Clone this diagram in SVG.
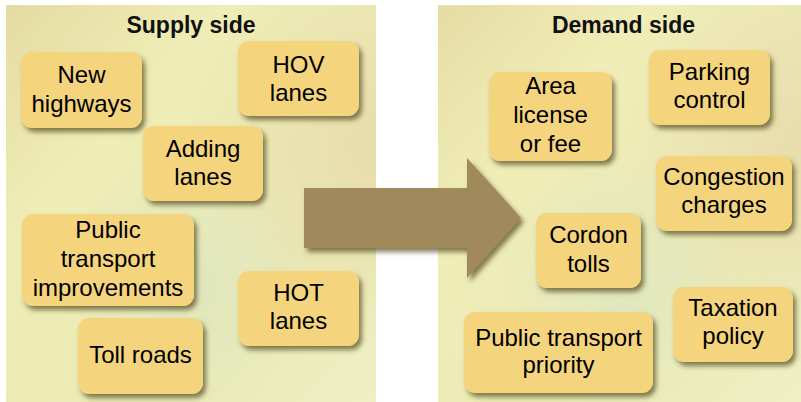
<svg xmlns="http://www.w3.org/2000/svg" width="801" height="402" viewBox="0 0 801 402">
<defs>
<linearGradient id="bgL" x1="0" y1="0" x2="1" y2="1">
<stop offset="0" stop-color="#e4dba2"/>
<stop offset="0.3" stop-color="#efedb6"/>
<stop offset="0.7" stop-color="#eaeab4"/>
<stop offset="1" stop-color="#eef0c4"/>
</linearGradient>
<linearGradient id="bgR" x1="0" y1="0" x2="1" y2="1">
<stop offset="0" stop-color="#e6dca4"/>
<stop offset="0.3" stop-color="#f0edb7"/>
<stop offset="0.7" stop-color="#ebebb5"/>
<stop offset="1" stop-color="#eef0c4"/>
</linearGradient>
<radialGradient id="tanTR" cx="1" cy="0.35" r="0.5">
<stop offset="0" stop-color="#e8dbab" stop-opacity="0.9"/>
<stop offset="1" stop-color="#e8dbab" stop-opacity="0"/>
</radialGradient>
<radialGradient id="greenC" cx="0.5" cy="0.7" r="0.35">
<stop offset="0" stop-color="#dde6c2" stop-opacity="0.8"/>
<stop offset="1" stop-color="#dde6c2" stop-opacity="0"/>
</radialGradient>
<filter id="sh" x="-20%" y="-20%" width="150%" height="150%">
<feGaussianBlur in="SourceAlpha" stdDeviation="2.5"/>
<feOffset dx="3" dy="4" result="b"/>
<feFlood flood-color="#5a5326" flood-opacity="0.75"/>
<feComposite in2="b" operator="in"/>
<feMerge><feMergeNode/><feMergeNode in="SourceGraphic"/></feMerge>
</filter>
</defs>
<style>
.box{fill:#f5d47e;filter:url(#sh)}
.t{font-family:"Liberation Sans",Arial,sans-serif;font-size:24px;fill:#000;text-anchor:middle}
.h{font-family:"Liberation Sans",Arial,sans-serif;font-size:23px;font-weight:bold;fill:#111;text-anchor:middle}
</style>
<rect width="801" height="402" fill="#ffffff"/>
<g id="supply-panel">
<rect x="6" y="5" width="370" height="397" fill="url(#bgL)"/>
<rect x="6" y="5" width="370" height="397" fill="url(#tanTR)"/>
<rect x="6" y="5" width="370" height="397" fill="url(#greenC)"/>
<text class="h" x="191" y="33">Supply side</text>
</g>
<g id="demand-panel">
<rect x="438" y="5" width="363" height="397" fill="url(#bgR)"/>
<rect x="438" y="5" width="363" height="397" fill="url(#tanTR)"/>
<rect x="438" y="5" width="363" height="397" fill="url(#greenC)"/>
<text class="h" x="623.5" y="33">Demand side</text>
</g>
<g id="connectors">
<polygon points="304,188 467,188 467,158 521,218 467,278 467,248 304,248" fill="#a08a5c" filter="url(#sh)"/>
</g>
<g id="new-highways"><rect class="box" x="21" y="52" width="121" height="76" rx="11"/><text class="t" x="81.5" y="83">New</text><text class="t" x="81.5" y="112">highways</text></g>
<g id="hov-lanes"><rect class="box" x="238" y="41" width="121" height="75" rx="11"/><text class="t" x="298.5" y="73">HOV</text><text class="t" x="298.5" y="101">lanes</text></g>
<g id="adding-lanes"><rect class="box" x="143" y="126" width="120" height="75" rx="11"/><text class="t" x="203" y="157">Adding</text><text class="t" x="203" y="185">lanes</text></g>
<g id="public-transport-improvements"><rect class="box" x="22" y="214" width="172" height="92" rx="11"/><text class="t" x="108" y="238">Public</text><text class="t" x="108" y="267">transport</text><text class="t" x="108" y="296">improvements</text></g>
<g id="hot-lanes"><rect class="box" x="238" y="271" width="121" height="75" rx="11"/><text class="t" x="298.5" y="301">HOT</text><text class="t" x="298.5" y="329">lanes</text></g>
<g id="toll-roads"><rect class="box" x="78" y="318" width="125" height="76" rx="11"/><text class="t" x="140.5" y="363">Toll roads</text></g>
<g id="area-license"><rect class="box" x="489" y="72" width="123" height="89" rx="11"/><text class="t" x="550.5" y="94">Area</text><text class="t" x="550.5" y="123">license</text><text class="t" x="550.5" y="152">or fee</text></g>
<g id="parking-control"><rect class="box" x="649" y="50" width="121" height="75" rx="11"/><text class="t" x="709.5" y="80">Parking</text><text class="t" x="709.5" y="108">control</text></g>
<g id="congestion-charges"><rect class="box" x="656" y="156" width="136" height="75" rx="11"/><text class="t" x="724" y="185">Congestion</text><text class="t" x="724" y="213">charges</text></g>
<g id="cordon-tolls"><rect class="box" x="536" y="213" width="105" height="75" rx="11"/><text class="t" x="588.5" y="243">Cordon</text><text class="t" x="588.5" y="272">tolls</text></g>
<g id="taxation-policy"><rect class="box" x="673" y="287" width="120" height="75" rx="11"/><text class="t" x="733" y="316">Taxation</text><text class="t" x="733" y="344">policy</text></g>
<g id="public-transport-priority"><rect class="box" x="464" y="312" width="189" height="81" rx="11"/><text class="t" x="558.5" y="346">Public transport</text><text class="t" x="558.5" y="373">priority</text></g>
</svg>
